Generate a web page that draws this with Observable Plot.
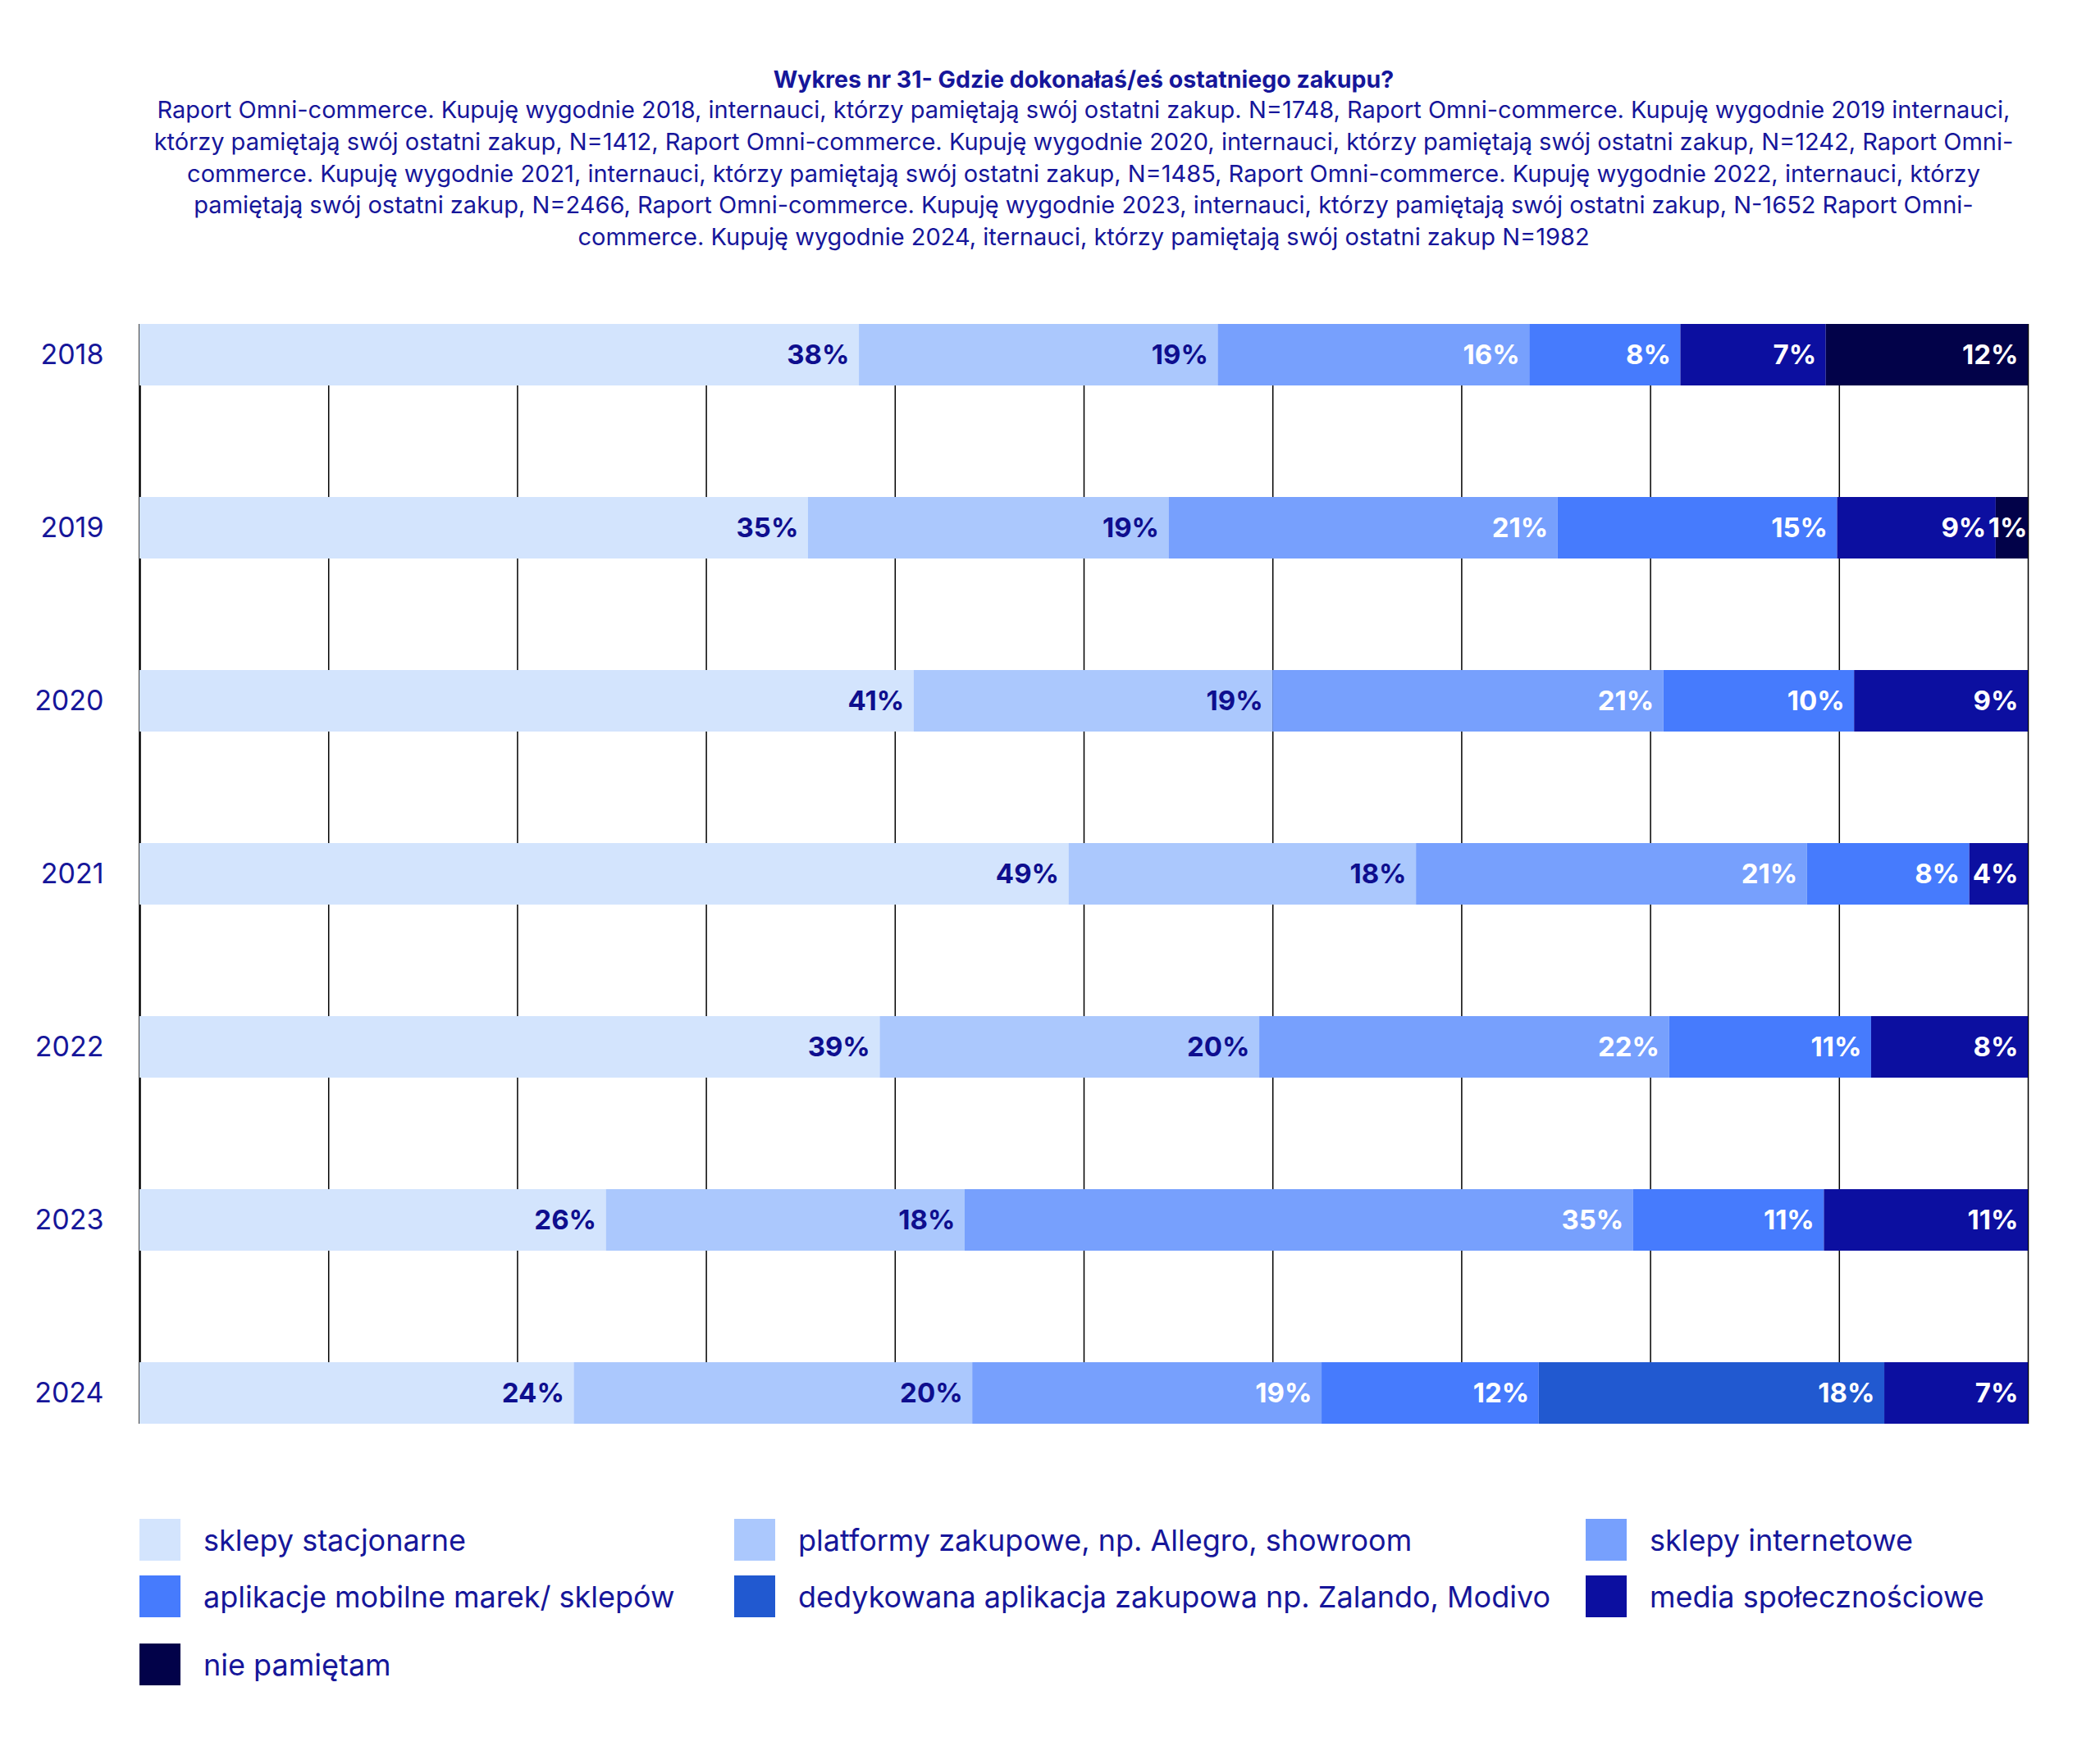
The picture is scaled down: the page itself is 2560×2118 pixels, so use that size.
<!DOCTYPE html>
<html>
<head>
<meta charset="utf-8">
<script src="https://cdn.jsdelivr.net/npm/d3@7"></script>
<script src="https://cdn.jsdelivr.net/npm/@observablehq/plot@0.6"></script>
<style>
  body { margin: 0; background: #fff; font-family: Inter, "Open Sans", sans-serif; color: #16169a; }
  #page { width: 2560px; position: relative; }
  #header { height: 330px; box-sizing: border-box; padding-top: 79px; margin-left: 170px; width: 2302px; text-align: center; }
  #title { font-weight: 700; font-size: 28.5px; line-height: 36px; }
  #subtitle { font-size: 29px; line-height: 38.75px; }
  #subtitle span { display: block; white-space: nowrap; }
  #chart svg { display: block; }
  #legend { margin-top: 56px; margin-left: 170px; display: grid; grid-template-columns: 725px 1038px auto; grid-template-rows: 69px 83px 51px; }
  .item { display: flex; align-items: center; height: 51px; font-size: 36px; white-space: nowrap; }
  .sw { width: 50px; height: 51px; margin-right: 28px; flex: none; }
</style>
</head>
<body>
<div id="page">
  <div id="header">
    <div id="title">Wykres nr 31- Gdzie dokonałaś/eś ostatniego zakupu?</div>
    <div id="subtitle">
      <span>Raport Omni-commerce. Kupuję wygodnie 2018, internauci, którzy pamiętają swój ostatni zakup. N=1748, Raport Omni-commerce. Kupuję wygodnie 2019 internauci,</span>
      <span>którzy pamiętają swój ostatni zakup, N=1412, Raport Omni-commerce. Kupuję wygodnie 2020, internauci, którzy pamiętają swój ostatni zakup, N=1242, Raport Omni-</span>
      <span>commerce. Kupuję wygodnie 2021, internauci, którzy pamiętają swój ostatni zakup, N=1485, Raport Omni-commerce. Kupuję wygodnie 2022, internauci, którzy</span>
      <span>pamiętają swój ostatni zakup, N=2466, Raport Omni-commerce. Kupuję wygodnie 2023, internauci, którzy pamiętają swój ostatni zakup, N-1652 Raport Omni-</span>
      <span>commerce. Kupuję wygodnie 2024, iternauci, którzy pamiętają swój ostatni zakup N=1982</span>
    </div>
  </div>
  <div id="chart"></div>
  <div id="legend"></div>
</div>
<script>
// ---- data ----
const years = ["2018", "2019", "2020", "2021", "2022", "2023", "2024"];
const categories = [
  "sklepy stacjonarne",
  "platformy zakupowe, np. Allegro, showroom",
  "sklepy internetowe",
  "aplikacje mobilne marek/ sklepów",
  "dedykowana aplikacja zakupowa np. Zalando, Modivo",
  "media społecznościowe",
  "nie pamiętam"
];
const colors = ["#d3e4fd", "#abc8fd", "#77a0fd", "#467bfd", "#2159d0", "#0c0fa0", "#020249"];

// bar widths (share of each bar, %), per category, years 2018..2024
const sklepyStacjonarne   = [38.1, 35.4, 41.0, 49.2, 39.2, 24.7, 23.0];
const platformy           = [19.0, 19.1, 19.0, 18.4, 20.1, 19.0, 21.1];
const sklepyInternetowe   = [16.5, 20.6, 20.7, 20.7, 21.7, 35.4, 18.5];
const aplikacjeMobilne    = [ 8.0, 14.8, 10.1,  8.6, 10.7, 10.1, 11.5];
const dedykowanaAplikacja = [ 0,    0,    0,    0,    0,    0,   18.3];
const mediaSpol           = [ 7.7,  8.4,  9.2,  3.1,  8.3, 10.8,  7.6];
const niePamietam         = [10.7,  1.7,  0,    0,    0,    0,    0  ];

// printed labels (%)
const lblSklepyStacjonarne   = [38, 35, 41, 49, 39, 26, 24];
const lblPlatformy           = [19, 19, 19, 18, 20, 18, 20];
const lblSklepyInternetowe   = [16, 21, 21, 21, 22, 35, 19];
const lblAplikacjeMobilne    = [8, 15, 10, 8, 11, 11, 12];
const lblDedykowanaAplikacja = [null, null, null, null, null, null, 18];
const lblMediaSpol           = [7, 9, 9, 4, 8, 11, 7];
const lblNiePamietam         = [12, 1, null, null, null, null, null];

const gridTicks = [0, 10, 20, 30, 40, 50, 60, 70, 80, 90, 100];

// ---- build table ----
const series = [sklepyStacjonarne, platformy, sklepyInternetowe, aplikacjeMobilne, dedykowanaAplikacja, mediaSpol, niePamietam];
const labels = [lblSklepyStacjonarne, lblPlatformy, lblSklepyInternetowe, lblAplikacjeMobilne, lblDedykowanaAplikacja, lblMediaSpol, lblNiePamietam];
const rows = [];
years.forEach((y, i) => {
  categories.forEach((c, j) => {
    rows.push({year: y, category: c, idx: j, value: series[j][i], label: labels[j][i]});
  });
});
const darkText = "#0e0e8e";
const lightCats = 2;   // first two categories carry dark labels
const tinyShare = 3;   // segments this thin get their label pushed to the edge

const hasLabel = d => d.label != null && d.value > 0;
const labelText = (test) => d => (hasLabel(d) && test(d)) ? d.label + "%" : null;

const textOpts = {x: "value", y: "year", z: "category", order: null, textAnchor: "end", fontWeight: 700, fontSize: 33};

const chart = Plot.plot({
  width: 2560,
  height: 1466,
  marginTop: 64,
  marginBottom: 60,
  marginLeft: 170,
  marginRight: 88,
  style: {fontFamily: "Inter, 'Open Sans', sans-serif", fontSize: "31px", color: "#16169a", background: "white", overflow: "visible"},
  x: {domain: [0, 100], axis: null},
  y: {type: "band", domain: years, range: [64, 1406], paddingInner: 0.645, paddingOuter: 0, axis: null},
  color: {domain: categories, range: colors},
  marks: [
    Plot.ruleX(gridTicks, {x: d => d, y1: () => years[0], y2: () => years[years.length - 1], stroke: "#000", strokeWidth: d => d === 0 ? 2.5 : 1.5}),
    Plot.barX(rows, Plot.stackX({x: "value", y: "year", z: "category", fill: "category", order: null})),
    Plot.text(rows, Plot.stackX2({...textOpts, dx: -12, fill: darkText,
      text: labelText(d => d.idx < lightCats)})),
    Plot.text(rows, Plot.stackX2({...textOpts, dx: -12, fill: "white",
      text: labelText(d => d.idx >= lightCats && d.value >= tinyShare)})),
    Plot.text(rows, Plot.stackX2({...textOpts, dx: -1, fill: "white",
      text: labelText(d => d.idx >= lightCats && d.value < tinyShare)})),
    Plot.axisY({tickSize: 0, tickPadding: 44, fontSize: 34, label: null, fill: "#16169a"})
  ]
});
document.getElementById("chart").appendChild(chart);

// ---- legend ----
const legend = document.getElementById("legend");
categories.forEach((c, j) => {
  const item = document.createElement("div");
  item.className = "item";
  const sw = document.createElement("div");
  sw.className = "sw";
  sw.style.background = colors[j];
  const tx = document.createElement("span");
  tx.textContent = c;
  item.appendChild(sw);
  item.appendChild(tx);
  legend.appendChild(item);
});
</script>
</body>
</html>
